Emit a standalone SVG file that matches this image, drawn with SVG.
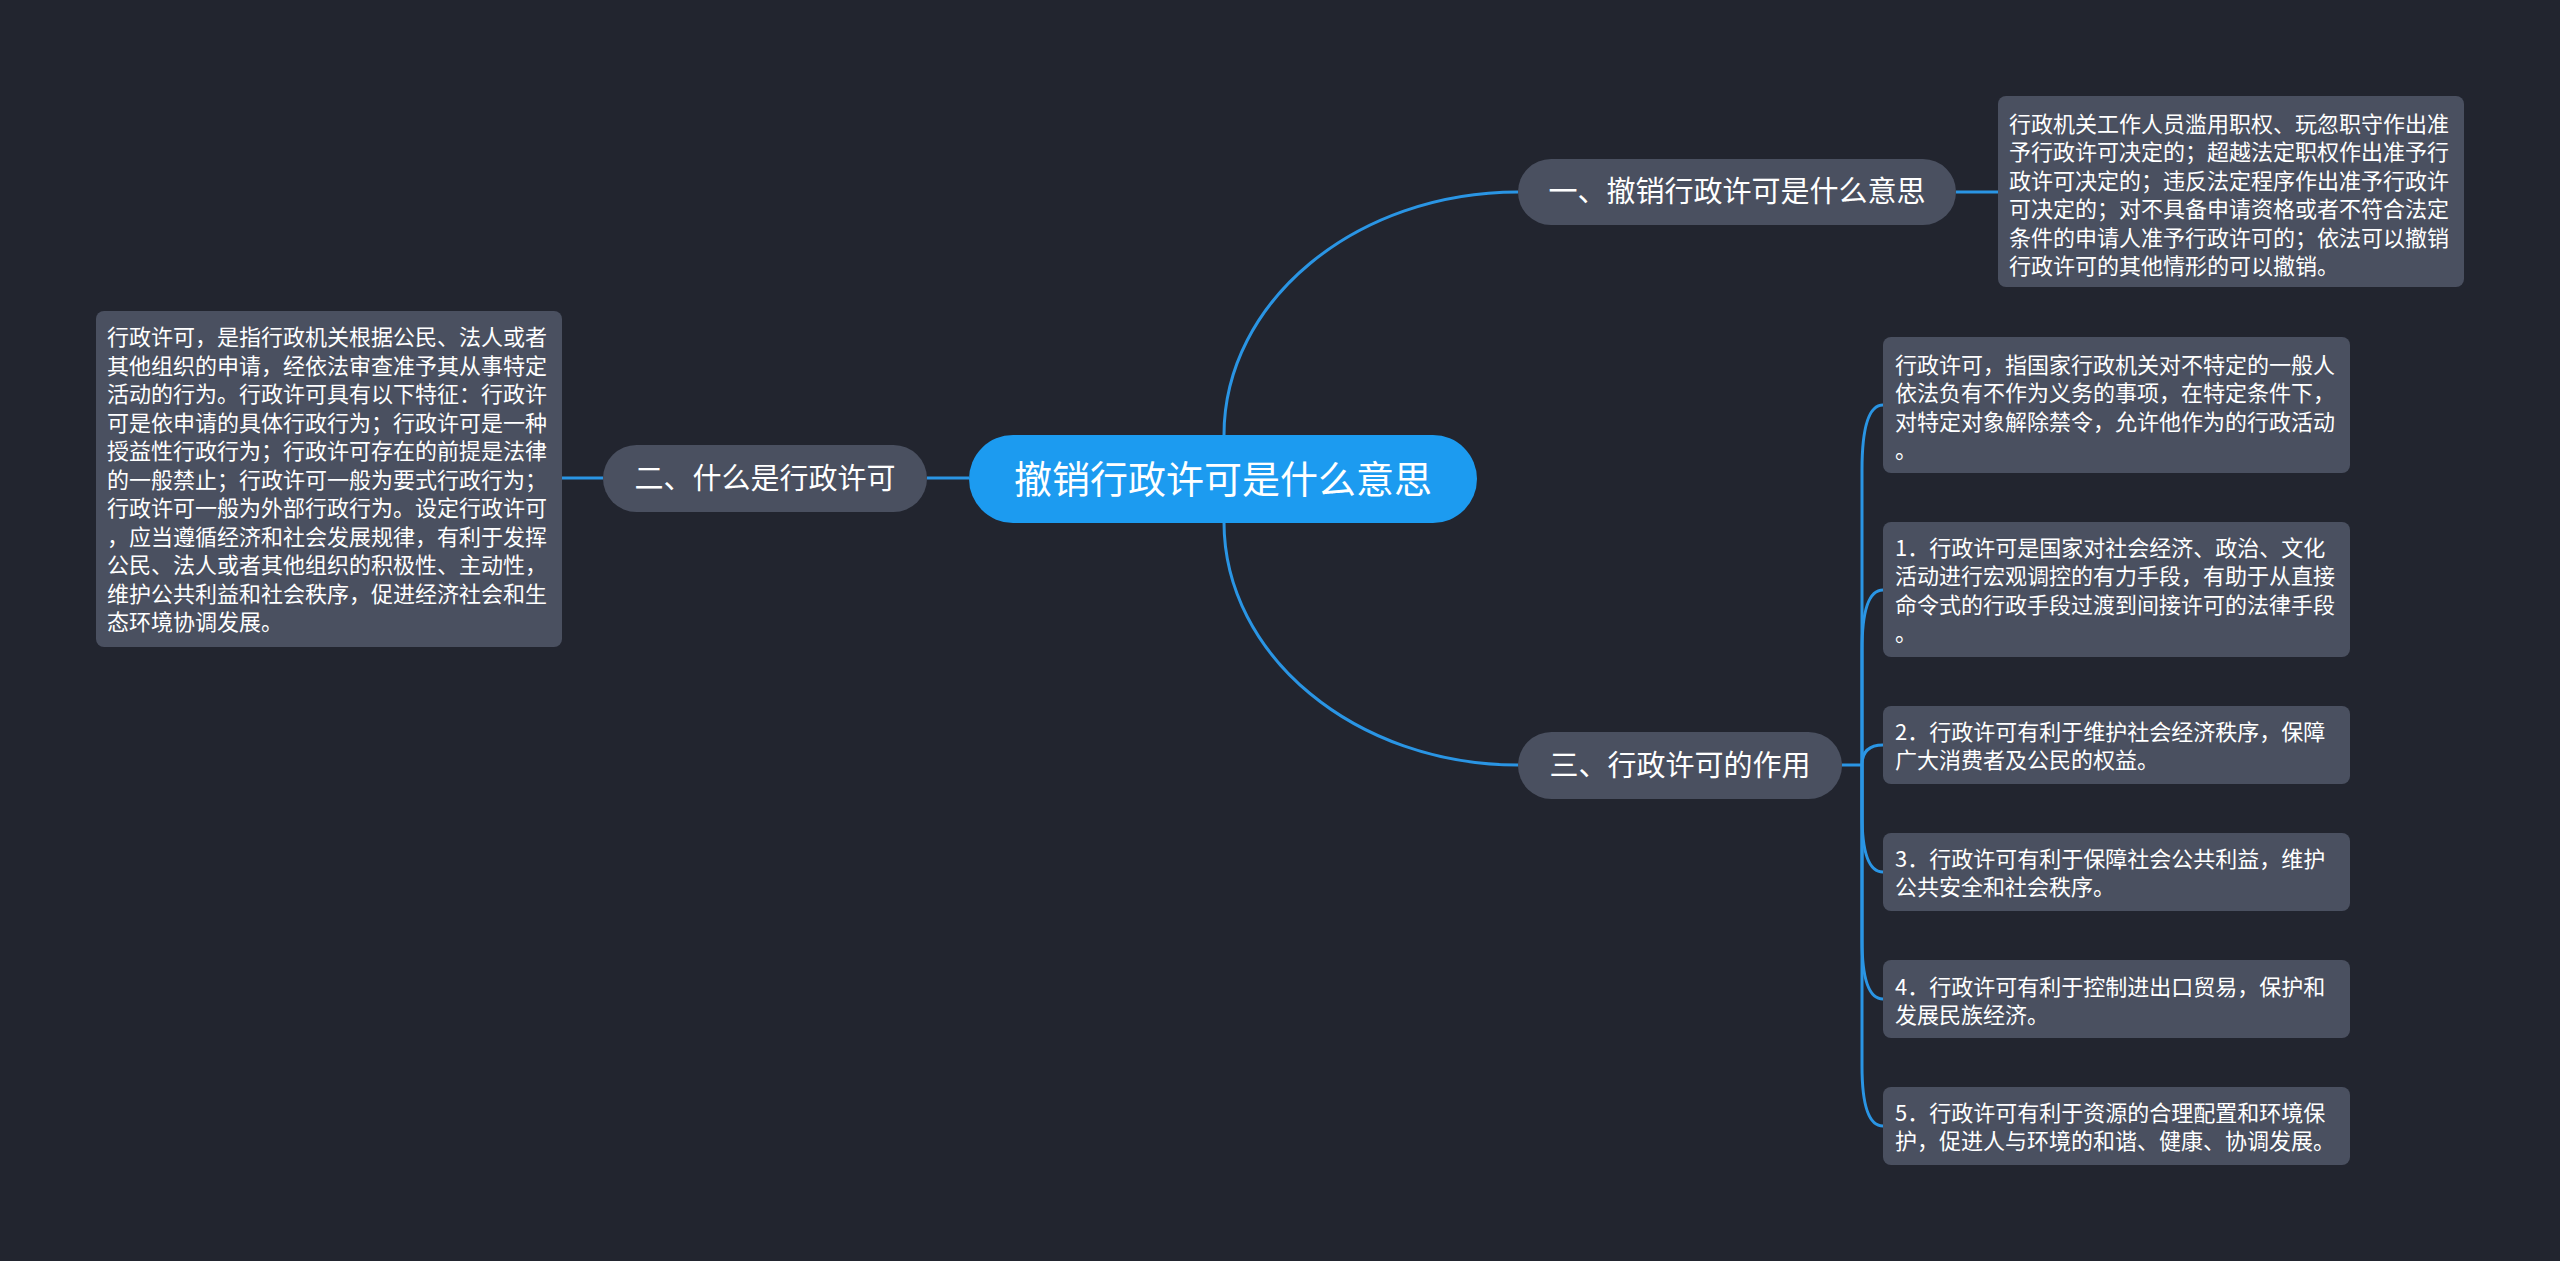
<svg xmlns="http://www.w3.org/2000/svg" width="2560" height="1261" viewBox="0 0 2560 1261">
<style>
.bg{fill:#22252f}
.root{fill:#1c9bf0}
.node{fill:#4a5060}
.leaf{fill:#4a5060}
.lnk{fill:none;stroke:#2a95e4;stroke-width:3}
text{font-family:"Noto Sans CJK SC","Microsoft YaHei",sans-serif;fill:#ffffff}
.t-root{font-size:38px}
.t-node{font-size:29px}
.t-leaf{font-size:22px}
</style>
<rect class="bg" x="0" y="0" width="2560" height="1261"/>
<g id="connectors">
<path class="lnk" d="M1224 478 L1224 435 C1224 301 1356 192 1518 192"/>
<path class="lnk" d="M1224 478 L1224 522 C1224 656 1356 765 1518 765"/>
<path class="lnk" d="M969 478 L927 478"/>
<path class="lnk" d="M603 478 L562 478"/>
<path class="lnk" d="M1956 192 L1998 192"/>
<path class="lnk" d="M1842 765 L1862 765"/>
<path class="lnk" d="M1862 765 L1862 470 Q1862 405 1883 405"/>
<path class="lnk" d="M1862 765 L1862 650 Q1862 590 1883 590"/>
<path class="lnk" d="M1862 765 Q1862 745 1883 745"/>
<path class="lnk" d="M1862 765 L1862 815 Q1862 872 1883 872"/>
<path class="lnk" d="M1862 765 L1862 940 Q1862 999 1883 999"/>
<path class="lnk" d="M1862 765 L1862 1066 Q1862 1126 1883 1126"/>
</g>
<g id="root">
<rect class="root" x="969" y="435" width="508" height="88" rx="44"/>
<text class="t-root" x="1223" y="493" text-anchor="middle">撤销行政许可是什么意思</text>
</g>
<g id="n1">
<rect class="node" x="1518" y="159" width="438" height="66" rx="33"/>
<text class="t-node" x="1737" y="202" text-anchor="middle">一、撤销行政许可是什么意思</text>
</g>
<g id="n2">
<rect class="node" x="603" y="445" width="324" height="67" rx="33.5"/>
<text class="t-node" x="765" y="489" text-anchor="middle">二、什么是行政许可</text>
</g>
<g id="n3">
<rect class="node" x="1518" y="732" width="324" height="67" rx="33.5"/>
<text class="t-node" x="1680" y="776" text-anchor="middle">三、行政许可的作用</text>
</g>
<g id="leafA">
<rect class="leaf" x="1998" y="96" width="466" height="191" rx="8"/>
<text class="t-leaf" x="2009" y="132"><tspan x="2009">行政机关工作人员滥用职权、玩忽职守作出准</tspan><tspan x="2009" dy="28.4">予行政许可决定的；超越法定职权作出准予行</tspan><tspan x="2009" dy="28.4">政许可决定的；违反法定程序作出准予行政许</tspan><tspan x="2009" dy="28.4">可决定的；对不具备申请资格或者不符合法定</tspan><tspan x="2009" dy="28.4">条件的申请人准予行政许可的；依法可以撤销</tspan><tspan x="2009" dy="28.4">行政许可的其他情形的可以撤销。</tspan></text>
</g>
<g id="leafB">
<rect class="leaf" x="96" y="311" width="466" height="336" rx="8"/>
<text class="t-leaf" x="107" y="345"><tspan x="107">行政许可，是指行政机关根据公民、法人或者</tspan><tspan x="107" dy="28.5">其他组织的申请，经依法审查准予其从事特定</tspan><tspan x="107" dy="28.5">活动的行为。行政许可具有以下特征：行政许</tspan><tspan x="107" dy="28.5">可是依申请的具体行政行为；行政许可是一种</tspan><tspan x="107" dy="28.5">授益性行政行为；行政许可存在的前提是法律</tspan><tspan x="107" dy="28.5">的一般禁止；行政许可一般为要式行政行为；</tspan><tspan x="107" dy="28.5">行政许可一般为外部行政行为。设定行政许可</tspan><tspan x="107" dy="28.5">，应当遵循经济和社会发展规律，有利于发挥</tspan><tspan x="107" dy="28.5">公民、法人或者其他组织的积极性、主动性，</tspan><tspan x="107" dy="28.5">维护公共利益和社会秩序，促进经济社会和生</tspan><tspan x="107" dy="28.5">态环境协调发展。</tspan></text>
</g>
<g id="leafC1">
<rect class="leaf" x="1883" y="337" width="467" height="136" rx="8"/>
<text class="t-leaf" x="1895" y="373"><tspan x="1895">行政许可，指国家行政机关对不特定的一般人</tspan><tspan x="1895" dy="28.4">依法负有不作为义务的事项，在特定条件下，</tspan><tspan x="1895" dy="28.4">对特定对象解除禁令，允许他作为的行政活动</tspan><tspan x="1895" dy="28.4">。</tspan></text>
</g>
<g id="leafC2">
<rect class="leaf" x="1883" y="522" width="467" height="135" rx="8"/>
<text class="t-leaf" x="1895" y="556"><tspan x="1895">1．行政许可是国家对社会经济、政治、文化</tspan><tspan x="1895" dy="28.4">活动进行宏观调控的有力手段，有助于从直接</tspan><tspan x="1895" dy="28.4">命令式的行政手段过渡到间接许可的法律手段</tspan><tspan x="1895" dy="28.4">。</tspan></text>
</g>
<g id="leafC3">
<rect class="leaf" x="1883" y="706" width="467" height="78" rx="8"/>
<text class="t-leaf" x="1895" y="740"><tspan x="1895">2．行政许可有利于维护社会经济秩序，保障</tspan><tspan x="1895" dy="28.4">广大消费者及公民的权益。</tspan></text>
</g>
<g id="leafC4">
<rect class="leaf" x="1883" y="833" width="467" height="78" rx="8"/>
<text class="t-leaf" x="1895" y="867"><tspan x="1895">3．行政许可有利于保障社会公共利益，维护</tspan><tspan x="1895" dy="28.4">公共安全和社会秩序。</tspan></text>
</g>
<g id="leafC5">
<rect class="leaf" x="1883" y="960" width="467" height="78" rx="8"/>
<text class="t-leaf" x="1895" y="995"><tspan x="1895">4．行政许可有利于控制进出口贸易，保护和</tspan><tspan x="1895" dy="28.4">发展民族经济。</tspan></text>
</g>
<g id="leafC6">
<rect class="leaf" x="1883" y="1087" width="467" height="78" rx="8"/>
<text class="t-leaf" x="1895" y="1121"><tspan x="1895">5．行政许可有利于资源的合理配置和环境保</tspan><tspan x="1895" dy="28.4">护，促进人与环境的和谐、健康、协调发展。</tspan></text>
</g>
</svg>
